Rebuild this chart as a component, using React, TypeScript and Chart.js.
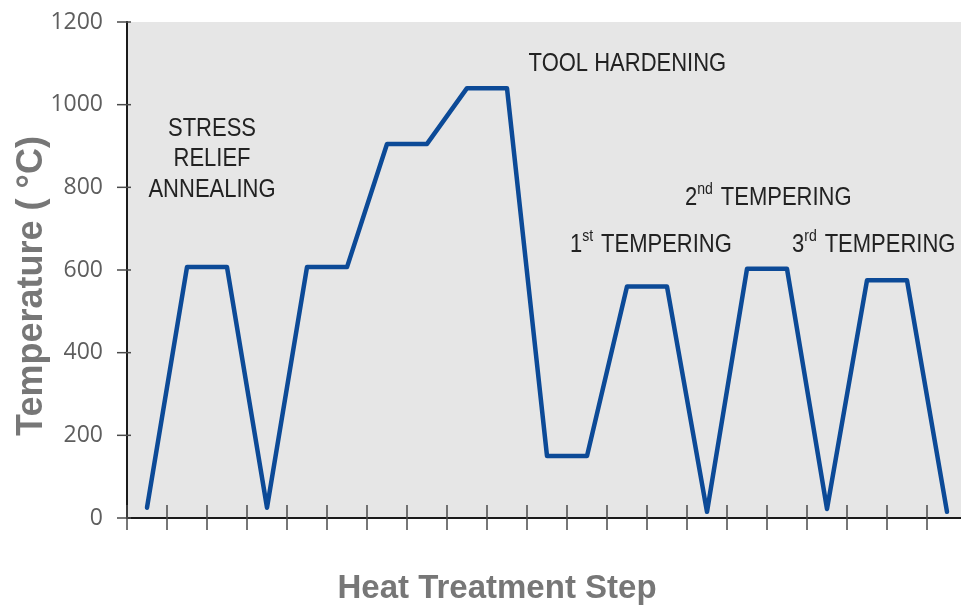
import React, { useEffect, useRef } from "react";
import { Chart, registerables } from "chart.js";

Chart.register(...registerables);

// ---- data ----
const stepCenters = [0.5, 1.5, 2.5, 3.5, 4.5, 5.5, 6.5, 7.5, 8.5, 9.5, 10.5, 11.5, 12.5, 13.5, 14.5, 15.5, 16.5, 17.5, 18.5, 19.5, 20.5];
const temperatures = [25, 607, 607, 25, 607, 607, 905, 905, 1040, 1040, 150, 150, 560, 560, 15, 603, 603, 22, 575, 575, 15];
const yTickValues = [0, 200, 400, 600, 800, 1000, 1200];
const xTickSteps = [0, 1, 2, 3, 4, 5, 6, 7, 8, 9, 10, 11, 12, 13, 14, 15, 16, 17, 18, 19, 20];
const yTitle = "Temperature ( °C)";
const xTitle = "Heat Treatment Step";

type Seg = [string, boolean];
const annotationSegs: Seg[][] = [
  [["STRESS", false]],
  [["RELIEF", false]],
  [["ANNEALING", false]],
  [["TOOL HARDENING", false]],
  [["1", false], ["st", true], [" TEMPERING", false]],
  [["2", false], ["nd", true], [" TEMPERING", false]],
  [["3", false], ["rd", true], [" TEMPERING", false]],
];
const annotationSteps = [2.125, 2.125, 2.125, 12.51, 11.075, 13.95, 16.625];
const annotationTemps = [923, 851, 776, 1081, 643, 757, 643];
const annotationAligns = ["center", "center", "center", "center", "left", "left", "left"];

const FONT = '"Liberation Sans", Arial, sans-serif';

function drawRich(ctx: CanvasRenderingContext2D, segs: Seg[], x: number, y: number, align: string) {
  const mainFont = `25px ${FONT}`;
  const supFont = `16px ${FONT}`;
  const sx = 0.88;
  let w = 0;
  segs.forEach(([t, sup]) => {
    ctx.font = sup ? supFont : mainFont;
    w += ctx.measureText(t).width + (sup ? 2 : 0);
  });
  ctx.save();
  ctx.translate(x, y);
  ctx.scale(sx, 1);
  ctx.fillStyle = "#222222";
  ctx.textBaseline = "alphabetic";
  ctx.textAlign = "left";
  let cx = align === "center" ? -w / 2 : 0;
  segs.forEach(([t, sup]) => {
    ctx.font = sup ? supFont : mainFont;
    ctx.fillText(t, cx, sup ? -11 : 0);
    cx += ctx.measureText(t).width + (sup ? 2 : 0);
  });
  ctx.restore();
}

const bgPlugin = {
  id: "bgArea",
  beforeDraw(chart: any) {
    const { ctx, chartArea } = chart;
    const { left, top, right, bottom } = chartArea;
    ctx.save();
    ctx.fillStyle = "#e6e6e6";
    ctx.fillRect(left, top, right - left, bottom - top);
    ctx.restore();
  },
  beforeDatasetsDraw(chart: any) {
    const { ctx, chartArea } = chart;
    const xs = chart.scales.x;
    const ys = chart.scales.y;
    ctx.save();
    ctx.strokeStyle = "#4a4a4a";
    ctx.lineWidth = 1.5;
    yTickValues.forEach((v) => {
      const py = ys.getPixelForValue(v);
      ctx.beginPath();
      ctx.moveTo(chartArea.left - 10, py);
      ctx.lineTo(chartArea.left + 4, py);
      ctx.stroke();
    });
    xTickSteps.forEach((s) => {
      const px = xs.getPixelForValue(s);
      ctx.beginPath();
      ctx.moveTo(px, chartArea.bottom - 13);
      ctx.lineTo(px, chartArea.bottom + 12);
      ctx.stroke();
    });
    ctx.restore();
  },
  afterDraw(chart: any) {
    const { ctx } = chart;
    const xs = chart.scales.x;
    const ys = chart.scales.y;
    annotationSegs.forEach((segs, i) => {
      drawRich(ctx, segs, xs.getPixelForValue(annotationSteps[i]), ys.getPixelForValue(annotationTemps[i]), annotationAligns[i]);
    });
    // axis titles
    ctx.save();
    ctx.fillStyle = "#777777";
    ctx.font = `bold 36px ${FONT}`;
    ctx.textAlign = "center";
    ctx.textBaseline = "alphabetic";
    ctx.translate(42, 286);
    ctx.rotate(-Math.PI / 2);
    ctx.fillText(yTitle, 0, 0);
    ctx.restore();
    ctx.save();
    ctx.fillStyle = "#777777";
    ctx.font = `bold 33px ${FONT}`;
    ctx.textAlign = "center";
    ctx.textBaseline = "alphabetic";
    ctx.fillText(xTitle, 497, 598);
    ctx.restore();
  },
};

export default function App() {
  const canvasRef = useRef<HTMLCanvasElement | null>(null);

  useEffect(() => {
    const canvas = canvasRef.current;
    if (!canvas) return;
    const chart = new Chart(canvas, {
      type: "line",
      data: {
        datasets: [
          {
            data: stepCenters.map((s, i) => ({ x: s, y: temperatures[i] })),
            borderColor: "#0c4a97",
            borderWidth: 4.5,
            pointRadius: 0,
            tension: 0,
            fill: false,
            borderJoinStyle: "round",
            borderCapStyle: "round",
          },
        ],
      },
      options: {
        animation: false,
        responsive: false,
        devicePixelRatio: 1,
        layout: { padding: { top: 22, left: 0, right: 0, bottom: 0 } },
        plugins: { legend: { display: false }, tooltip: { enabled: false } },
        scales: {
          x: {
            type: "linear",
            min: 0,
            max: 20.85,
            grid: { display: false, drawTicks: false },
            border: { display: true, color: "#1a1a1a", width: 2 },
            ticks: { display: false },
            afterFit: (scale: any) => {
              scale.height = 90;
              scale.paddingLeft = 0;
              scale.paddingRight = 0;
            },
          },
          y: {
            type: "linear",
            min: 0,
            max: 1200,
            grid: { display: false, drawTicks: false },
            border: { display: true, color: "#1a1a1a", width: 2 },
            ticks: {
              stepSize: 200,
              padding: 24,
              color: "#5e5e5e",
              font: { family: '"Open Sans", sans-serif', size: 23 },
              callback: (v: any) => String(v),
            },
            afterFit: (scale: any) => {
              scale.width = 127;
              scale.paddingTop = 0;
              scale.paddingBottom = 0;
            },
          },
        },
      },
      plugins: [bgPlugin],
    } as any);
    return () => chart.destroy();
  }, []);

  return (
    <div style={{ position: "fixed", left: 0, top: 0, width: 961, height: 608, background: "#ffffff" }}>
      <canvas ref={canvasRef} width={961} height={608} style={{ width: 961, height: 608, display: "block" }} />
    </div>
  );
}
